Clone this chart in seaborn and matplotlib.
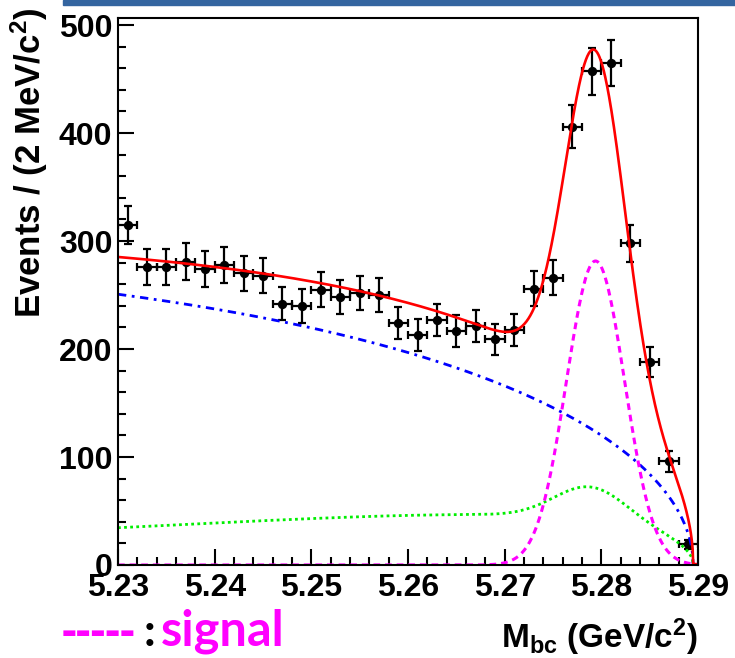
import numpy as np
import pandas as pd
import matplotlib
matplotlib.use("Agg")
import matplotlib.pyplot as plt
from matplotlib.patches import Rectangle
from matplotlib.ticker import MultipleLocator, FormatStrFormatter
import seaborn as sns

# ---- binned data: Mbc, 2 MeV/c^2 bins -------------------------------------
mbc_lo, mbc_hi, n_bins = 5.23, 5.29, 30
counts = [315, 276, 276, 281, 274, 278, 270, 268, 242, 240,
          255, 248, 252, 250, 224, 213, 227, 217, 221, 209,
          218, 256, 266, 406, 457, 465, 298, 188, 96, 19]

# ---- fit components -------------------------------------------------------
m_end = 5.2895                       # kinematic endpoint
# combinatorial background (ARGUS)
bkg_norm, bkg_shape = 392.0, -9.0
# peaking background: ARGUS + Gaussian bump
pk_norm, pk_shape = 154.4, -56.0
pk_amp, pk_mean, pk_sigma = 31.0, 5.2789, 0.0037
# signal Gaussian
sig_amp, sig_mean, sig_sigma = 281.5, 5.2794, 0.0030


def argus(m, norm, shape):
    t = np.clip(1.0 - (m / m_end) ** 2, 0.0, None)
    return norm * m * np.sqrt(t) * np.exp(shape * t)


def gauss(m, amp, mean, sigma):
    return amp * np.exp(-0.5 * ((m - mean) / sigma) ** 2)


edges = np.linspace(mbc_lo, mbc_hi, n_bins + 1)
centers = 0.5 * (edges[:-1] + edges[1:])
half_bin = 0.5 * (edges[1] - edges[0])
data = pd.DataFrame({"mbc": centers, "events": counts})
data["err"] = np.sqrt(data["events"])

m = np.linspace(mbc_lo, mbc_hi, 1201)
inside = m <= m_end
bkg = argus(m, bkg_norm, bkg_shape)
peaking = argus(m, pk_norm, pk_shape) + np.where(inside, gauss(m, pk_amp, pk_mean, pk_sigma), 0.0)
signal = gauss(m, sig_amp, sig_mean, sig_sigma)
total = bkg + peaking + signal
curves = pd.DataFrame({"mbc": m, "bkg": bkg, "peaking": peaking,
                       "signal": signal, "total": total})

# ---- style ----------------------------------------------------------------
sns.set_theme(style="ticks")
plt.rcParams.update({
    "font.family": ["Liberation Sans", "DejaVu Sans"],
    "font.weight": "bold",
    "axes.labelweight": "bold",
    "mathtext.fontset": "custom",
    "mathtext.rm": "Liberation Sans:bold",
    "mathtext.it": "Liberation Sans:bold",
    "mathtext.bf": "Liberation Sans:bold",
    "mathtext.default": "regular",
    "text.color": "black",
    "axes.labelcolor": "black",
    "xtick.color": "black",
    "ytick.color": "black",
    "axes.edgecolor": "black",
    "axes.linewidth": 1.5,
})

fig = plt.figure(figsize=(7.35, 6.58), dpi=100)
ax = fig.add_axes([118 / 735, 1 - 565 / 658, 580 / 735, 547 / 658])

# data points with Poisson errors
ax.errorbar(data["mbc"], data["events"], yerr=data["err"], xerr=half_bin,
            fmt="none", ecolor="black", elinewidth=1.6, capsize=2.8,
            capthick=1.6, zorder=3)
sns.scatterplot(data=data, x="mbc", y="events", color="black", s=45,
                edgecolor="black", linewidth=0, zorder=4, ax=ax)

# fit curves
sns.lineplot(data=curves, x="mbc", y="bkg", color="#0000ff", linewidth=2.0,
             linestyle=(0, (3.0, 2.0, 1.0, 2.0)), zorder=5, ax=ax)
sns.lineplot(data=curves, x="mbc", y="peaking", color="#00ee00", linewidth=2.0,
             linestyle=(0, (1.0, 1.2)), zorder=5, ax=ax)
sns.lineplot(data=curves, x="mbc", y="signal", color="#ff00ff", linewidth=2.2,
             linestyle=(0, (2.2, 1.6)), zorder=5, ax=ax)
sns.lineplot(data=curves, x="mbc", y="total", color="#ff0000", linewidth=1.9,
             zorder=6, ax=ax)

# axes
ax.set_xlim(mbc_lo, mbc_hi)
ax.set_ylim(0, 506.5)
ax.xaxis.set_major_locator(MultipleLocator(0.01))
ax.xaxis.set_minor_locator(MultipleLocator(0.002))
ax.yaxis.set_major_locator(MultipleLocator(100))
ax.yaxis.set_minor_locator(MultipleLocator(20))
ax.xaxis.set_major_formatter(FormatStrFormatter("%.2f"))
ax.tick_params(which="both", direction="in", top=False, right=False,
               colors="black", width=1.5, labelsize=23)
ax.tick_params(which="major", length=11.5)
ax.tick_params(which="minor", length=5.8)
ax.tick_params(axis="y", pad=4.0)
ax.tick_params(axis="x", pad=6.0)
for sp in ax.spines.values():
    sp.set_visible(True)
    sp.set_linewidth(1.5)
    sp.set_color("black")
    sp.set_zorder(10)

ax.set_ylabel("Events / (2 MeV/c$^{2}$)", fontsize=25, loc="top")
ax.yaxis.set_label_coords(-0.117, 1.02)
ax.set_xlabel("M$_{bc}$ (GeV/c$^{2}$)", fontsize=24, loc="right")
ax.xaxis.set_label_coords(1.0, -0.094)

# note identifying the signal component
note_y = 1 - 646 / 658
fig.text(62 / 735, note_y, "-----", color="#ff00ff", fontsize=33,
         family=["Open Sans", "DejaVu Sans"], weight="bold", va="baseline")
fig.text(144 / 735, note_y, ":", color="black", fontsize=33,
         family=["Lato", "DejaVu Sans"], weight="bold", va="baseline")
fig.text(161 / 735, note_y, "signal", color="#ff00ff", fontsize=35,
         family=["Lato", "DejaVu Sans"], weight="bold", va="baseline")

# header rule
fig.patches.append(Rectangle((63 / 735, 1 - 5 / 658), 1 - 63 / 735, 5 / 658,
                             transform=fig.transFigure, color="#3465a0",
                             zorder=10))

fig.savefig("out.png", dpi=100)
